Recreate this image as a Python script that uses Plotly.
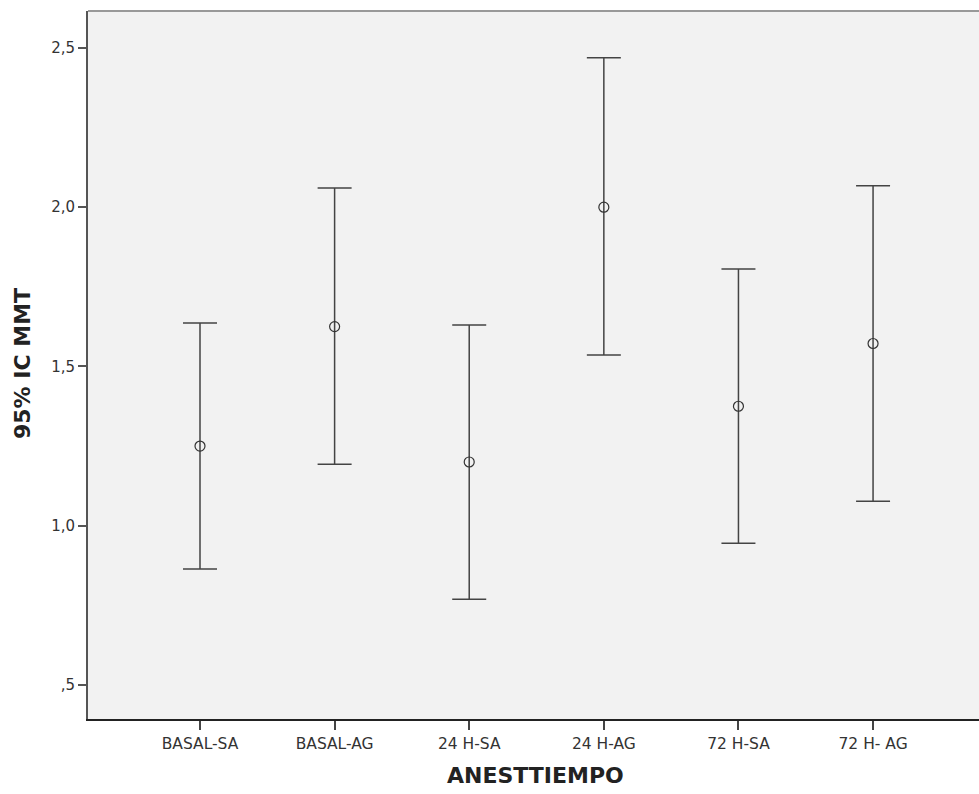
import plotly.graph_objects as go

categories = ["BASAL-SA", "BASAL-AG", "24 H-SA", "24 H-AG", "72 H-SA", "72 H- AG"]
means = [1.25, 1.625, 1.20, 2.00, 1.375, 1.572]
upper = [1.636, 2.060, 1.630, 2.469, 1.806, 2.067]
lower = [0.864, 1.193, 0.769, 1.536, 0.945, 1.077]

y_tickvals = [0.5, 1.0, 1.5, 2.0, 2.5]
y_ticktext = [",5", "1,0", "1,5", "2,0", "2,5"]

xpos = list(range(len(categories)))
err_plus = [u - m for u, m in zip(upper, means)]
err_minus = [m - l for m, l in zip(means, lower)]

fig = go.Figure()
fig.add_trace(go.Scatter(
    x=xpos, y=means, mode="markers",
    marker=dict(symbol="circle-open", size=10, color="#333333", line=dict(width=1.2, color="#333333")),
    error_y=dict(type="data", symmetric=False, array=err_plus, arrayminus=err_minus,
                 color="#444444", thickness=1.5, width=17),
    showlegend=False, hoverinfo="skip",
))

PW, PH = 891, 708
fig.update_layout(
    width=979, height=794,
    margin=dict(l=88, r=0, t=11, b=75),
    paper_bgcolor="white", plot_bgcolor="#f2f2f2",
    font=dict(family="DejaVu Sans", size=15, color="#333333"),
    xaxis=dict(range=[-0.832, 5.787], tickvals=xpos, ticktext=categories,
               showgrid=False, zeroline=False, showline=True, linecolor="#222222", linewidth=2,
               ticks="outside", ticklen=9, tickwidth=2, tickcolor="#444444",
               tickfont=dict(size=15.5, color="#333333")),
    yaxis=dict(range=[0.393, 2.616], tickvals=y_tickvals, ticktext=y_ticktext,
               showgrid=False, zeroline=False, showline=True, linecolor="#555555", linewidth=2,
               ticks="outside", ticklen=8, tickwidth=2, tickcolor="#555555",
               tickfont=dict(size=15, color="#333333")),
    shapes=[dict(type="line", xref="paper", yref="paper", x0=0, x1=1, y0=1, y1=1,
                 line=dict(color="#999999", width=2))],
    annotations=[
        dict(text="<b>ANESTTIEMPO</b>", xref="paper", yref="paper", x=(535 - 88) / PW, y=-56 / PH,
             xanchor="center", yanchor="middle", showarrow=False,
             font=dict(size=22, color="#222222")),
        dict(text="<b>95% IC MMT</b>", xref="paper", yref="paper", x=-66 / PW, y=(719 - 364) / PH,
             xanchor="center", yanchor="middle", showarrow=False, textangle=-90,
             font=dict(size=22, color="#222222")),
    ],
)

fig.write_html("out.html", config={"displayModeBar": False},
               post_script="document.body.style.margin='0';document.body.style.overflow='hidden';")
